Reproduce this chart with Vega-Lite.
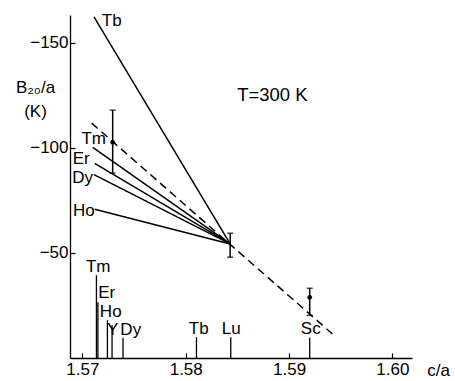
{
  "$schema": "https://vega.github.io/schema/vega-lite/v6.json",
  "width": 342,
  "height": 343,
  "autosize": "none",
  "padding": {"left": 70, "top": 15, "right": 43, "bottom": 23},
  "background": "white",
  "config": {
    "view": {"stroke": null},
    "font": "Liberation Sans",
    "text": {"font": "Liberation Sans", "fontSize": 17, "color": "black"},
    "axis": {
      "grid": false,
      "domainColor": "black",
      "domainWidth": 1.3,
      "tickColor": "black",
      "tickWidth": 1.2,
      "tickSize": -5,
      "labelFont": "Liberation Sans",
      "labelFontSize": 17,
      "labelColor": "black",
      "titleFont": "Liberation Sans",
      "titleFontSize": 17,
      "titleFontWeight": "normal",
      "titleColor": "black"
    }
  },
  "datasets": {
    "lines": [
      {"s": "Tb", "x": 1.57112, "y": -162.4},
      {"s": "Tb", "x": 1.5843, "y": -54.3},
      {"s": "Tm", "x": 1.5710, "y": -100.3},
      {"s": "Tm", "x": 1.5843, "y": -54.3},
      {"s": "Er", "x": 1.57119, "y": -92.7},
      {"s": "Er", "x": 1.5843, "y": -54.3},
      {"s": "Dy", "x": 1.57112, "y": -87.3},
      {"s": "Dy", "x": 1.5843, "y": -54.3},
      {"s": "Ho", "x": 1.57119, "y": -70.8},
      {"s": "Ho", "x": 1.5843, "y": -54.3}
    ],
    "dashed": [
      {"x": 1.5709, "y": -111.8},
      {"x": 1.59423, "y": -11.3}
    ],
    "errors": [
      {"x": 1.57293, "lo": -118, "hi": -88, "c": -102.7},
      {"x": 1.5843, "lo": -59.4, "hi": -48, "c": -54.3},
      {"x": 1.5920, "lo": -33.2, "hi": -20.3, "c": -28.9}
    ],
    "points": [
      {"x": 1.57293, "y": -102.7},
      {"x": 1.5920, "y": -28.9}
    ],
    "markers": [
      {"el": "Tm", "x": 1.57136, "top": -39.4},
      {"el": "Er", "x": 1.57150, "top": -26.5},
      {"el": "Ho", "x": 1.57242, "top": -18},
      {"el": "Y", "x": 1.57287, "top": -15.6},
      {"el": "Dy", "x": 1.57393, "top": -9.7},
      {"el": "Tb", "x": 1.58104, "top": -9.9},
      {"el": "Lu", "x": 1.58436, "top": -9.9},
      {"el": "Sc", "x": 1.5920, "top": -9.7}
    ],
    "labels": [
      {"t": "Tb", "x": 1.57284, "y": -160.3},
      {"t": "Tm", "x": 1.57109, "y": -104.3},
      {"t": "Er", "x": 1.56988, "y": -94.6},
      {"t": "Dy", "x": 1.57003, "y": -85.6},
      {"t": "Ho", "x": 1.57013, "y": -69.9},
      {"t": "Tm", "x": 1.57153, "y": -43.4},
      {"t": "Er", "x": 1.57235, "y": -31},
      {"t": "Ho", "x": 1.57274, "y": -21.8},
      {"t": "Y", "x": 1.57293, "y": -13.2},
      {"t": "Dy", "x": 1.57468, "y": -13.2},
      {"t": "Tb", "x": 1.58126, "y": -13.9},
      {"t": "Lu", "x": 1.58441, "y": -13.9},
      {"t": "Sc", "x": 1.59210, "y": -13.9}
    ],
    "note": [
      {"t": "T=300 K", "x": 1.58839, "y": -125.2}
    ]
  },
  "encoding": {
    "x": {
      "field": "x", "type": "quantitative",
      "scale": {"domain": [1.5688, 1.6019], "nice": false, "zero": false},
      "axis": {
        "values": [1.57, 1.58, 1.59, 1.60],
        "format": ".2f",
        "labelPadding": 8,
        "title": "c/a",
        "titleX": 368,
        "titleY": 4,
        "titleAlign": "center",
        "titleBaseline": "top"
      }
    },
    "y": {
      "field": "y", "type": "quantitative",
      "scale": {"domain": [-163.3, 0], "nice": false, "zero": false, "reverse": true},
      "axis": {
        "values": [-150, -100, -50],
        "format": "d",
        "labelPadding": 7,
        "title": ["B₂₀/a", "(K)"],
        "titleAngle": 0,
        "titleX": -35,
        "titleY": 64,
        "titleAlign": "center",
        "titleBaseline": "top",
        "titleLineHeight": 24
      }
    }
  },
  "layer": [
    {
      "data": {"name": "lines"},
      "mark": {"type": "line", "color": "black", "strokeWidth": 1.5},
      "encoding": {"detail": {"field": "s"}}
    },
    {
      "data": {"name": "dashed"},
      "mark": {"type": "line", "color": "black", "strokeWidth": 1.5, "strokeDash": [8, 5]},
      "encoding": {}
    },
    {
      "data": {"name": "errors"},
      "mark": {"type": "rule", "color": "black", "strokeWidth": 1.5},
      "encoding": {"y": {"field": "lo", "type": "quantitative"}, "y2": {"field": "hi"}}
    },
    {
      "data": {"name": "errors"},
      "mark": {"type": "tick", "orient": "horizontal", "color": "black", "thickness": 1.5, "size": 6},
      "encoding": {"y": {"field": "lo", "type": "quantitative"}}
    },
    {
      "data": {"name": "errors"},
      "mark": {"type": "tick", "orient": "horizontal", "color": "black", "thickness": 1.5, "size": 6},
      "encoding": {"y": {"field": "hi", "type": "quantitative"}}
    },
    {
      "data": {"name": "points"},
      "mark": {"type": "point", "filled": true, "color": "black", "size": 22, "opacity": 1}
    },
    {
      "data": {"name": "markers"},
      "mark": {"type": "rule", "color": "black", "strokeWidth": 1.3},
      "encoding": {"y": {"field": "top", "type": "quantitative"}, "y2": {"datum": 0}}
    },
    {
      "data": {"name": "labels"},
      "mark": {"type": "text", "align": "center", "baseline": "middle", "fontSize": 17, "color": "black"},
      "encoding": {"text": {"field": "t"}}
    },
    {
      "data": {"name": "note"},
      "mark": {"type": "text", "align": "center", "baseline": "middle", "fontSize": 18.5, "color": "black"},
      "encoding": {"text": {"field": "t"}}
    }
  ]
}
